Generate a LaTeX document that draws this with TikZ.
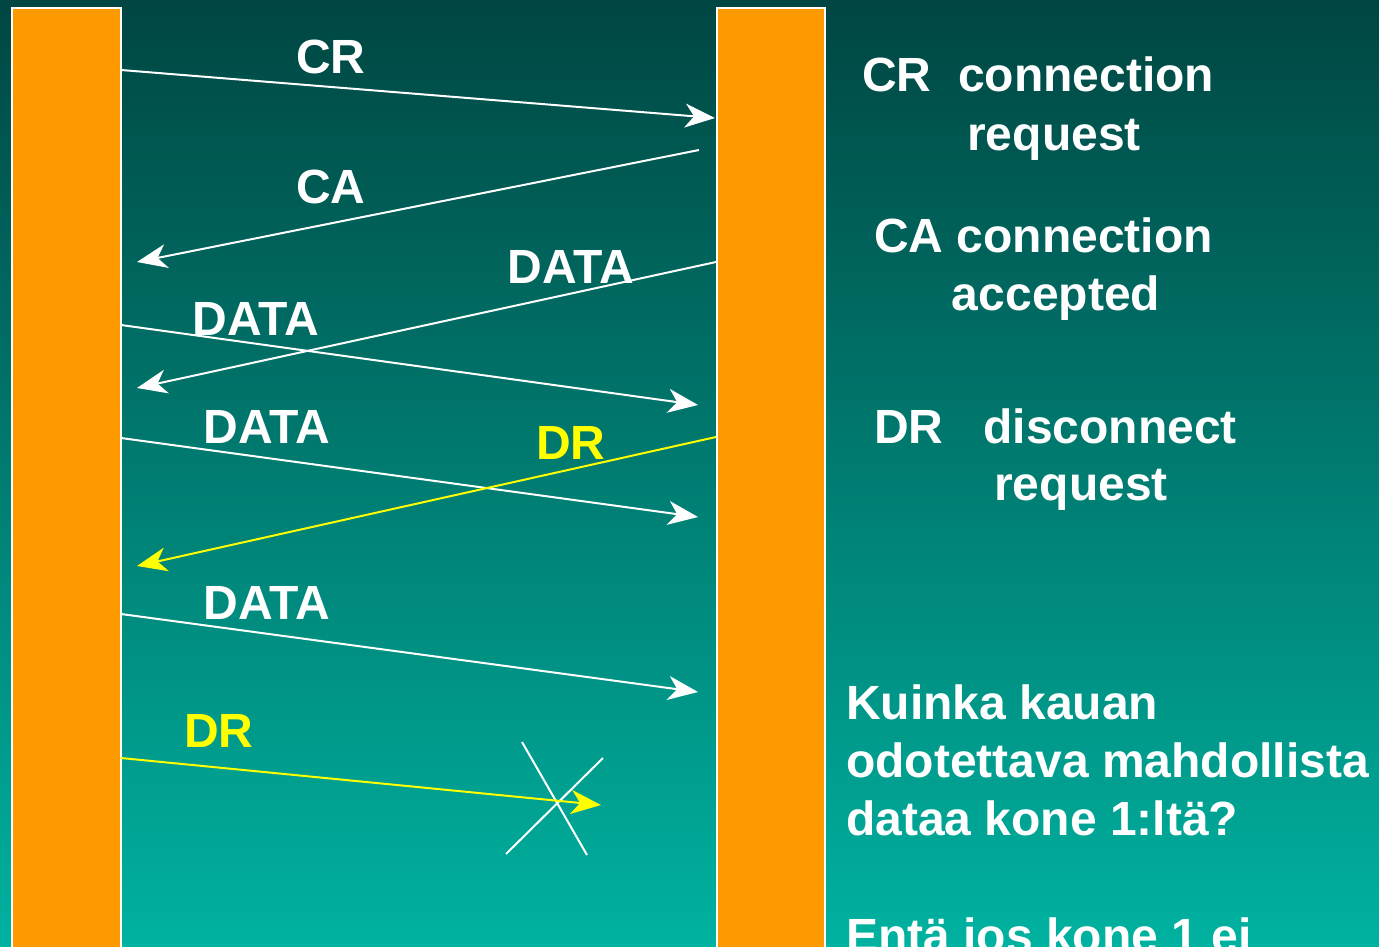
\documentclass[tikz,border=0pt]{standalone}
\usepackage{fontspec}
\setmainfont{Liberation Sans}
\usetikzlibrary{arrows.meta}
\definecolor{bgtop}{RGB}{0,70,66}
\definecolor{bgbot}{RGB}{0,178,160}
\definecolor{barorange}{RGB}{255,153,0}
\definecolor{dryellow}{RGB}{255,255,0}
\tikzset{
  bar/.style={fill=barorange,draw=white,line width=2pt},
  msg/.style={draw=white,line width=2pt,-{Stealth[length=30pt,width=24pt,inset=9pt]}},
  drmsg/.style={msg,draw=dryellow,fill=dryellow},
  crossline/.style={draw=white,line width=2pt},
  lbl/.style={text=white,font=\fontsize{48}{58}\selectfont\bfseries,inner sep=0pt},
  drlbl/.style={lbl,text=dryellow},
  side/.style={lbl,anchor=base west},
}
\begin{document}
\begin{tikzpicture}[x=1pt,y=-1pt]
\useasboundingbox (0,0) rectangle (1379,947);
\begin{scope}
\clip (0,0) rectangle (1379,947);
\shade[top color=bgtop,bottom color=bgbot] (0,0) rectangle (1379,947);
\draw[bar] (12,8) rectangle (121,980);
\draw[bar] (717,8) rectangle (825,980);
\end{scope}
% endpoints
\coordinate (crs) at (121,70);   \coordinate (cre) at (715,118);
\coordinate (cas) at (699,150);  \coordinate (cae) at (137,262);
\coordinate (d1s) at (716,262);  \coordinate (d1e) at (137,388);
\coordinate (d2s) at (121,325);  \coordinate (d2e) at (698,405);
\coordinate (d3s) at (121,438);  \coordinate (d3e) at (698,517);
\coordinate (dr1s) at (716,437); \coordinate (dr1e) at (137,566);
\coordinate (d4s) at (121,614);  \coordinate (d4e) at (698,692);
\coordinate (dr2s) at (121,758); \coordinate (dr2e) at (601,805);
\coordinate (x1a) at (522,742);  \coordinate (x1b) at (587,855);
\coordinate (x2a) at (603,758);  \coordinate (x2b) at (506,854);
\draw[msg] (crs) -- (cre);
\draw[msg] (cas) -- (cae);
\draw[msg] (d1s) -- (d1e);
\draw[msg] (d2s) -- (d2e);
\draw[msg] (d3s) -- (d3e);
\draw[drmsg] (dr1s) -- (dr1e);
\draw[msg] (d4s) -- (d4e);
\draw[crossline] (x1a) -- (x1b);
\draw[crossline] (x2a) -- (x2b);
\draw[drmsg] (dr2s) -- (dr2e);
% labels
\node[lbl,anchor=base] (lcr) at (331,74) {CR};
\node[lbl,anchor=base] (lca) at (331,203) {CA};
\node[lbl,anchor=base] (ld1) at (571,283) {DATA};
\node[lbl,anchor=base] (ld2) at (256,335) {DATA};
\node[lbl,anchor=base] (ld3) at (267,443) {DATA};
\node[drlbl,anchor=base] (ldr1) at (571,459) {DR};
\node[lbl,anchor=base] (ld4) at (267,619) {DATA};
\node[drlbl,anchor=base] (ldr2) at (219,747) {DR};
% side text
\node[side] (t1) at (862,92) {CR\ \ connection};
\node[lbl,anchor=base] (t2) at (1054,150) {request};
\node[side] (t3) at (874,252) {CA connection};
\node[lbl,anchor=base] (t4) at (1056,310) {accepted};
\node[side] (t5) at (874,443) {DR\ \ \ disconnect};
\node[lbl,anchor=base] (t6) at (1081,500) {request};
\node[side] (t7) at (846,719) {Kuinka kauan};
\node[side] (t8) at (846,777) {odotettava mahdollista};
\node[side] (t9) at (846,835) {dataa kone 1:ltä?};
\node[side] (t10) at (846,952) {Entä jos kone 1 ei};
\end{tikzpicture}
\end{document}
